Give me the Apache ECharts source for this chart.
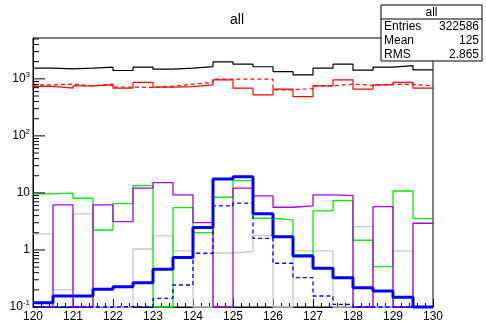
<!DOCTYPE html>
<html>
<head>
<meta charset="utf-8">
<script src="https://cdn.jsdelivr.net/npm/echarts@6/dist/echarts.min.js"></script>
<style>
html, body { margin: 0; padding: 0; background: #fff; }
#chart { width: 486px; height: 325px; }
</style>
</head>
<body>
<div id="chart"></div>
<script>
// bins (low edges), width 0.5
var binLow = [120.0, 120.5, 121.0, 121.5, 122.0, 122.5, 123.0, 123.5, 124.0, 124.5,
              125.0, 125.5, 126.0, 126.5, 127.0, 127.5, 128.0, 128.5, 129.0, 129.5];
var binWidth = 0.5;

// histogram contents
var histAll      = [1541, 1497, 1541, 1604, 1399, 1604, 1479, 1541, 1643, 1988, 1811, 1630, 1343, 1175, 1541, 1811, 1420, 1604, 1711, 1438];
var histRed      = [740, 687, 754, 785, 687, 870, 715, 733, 785, 960, 687, 524, 660, 489, 754, 960, 660, 785, 870, 687];
var histRedDash  = [785, 807, 754, 807, 720, 705, 745, 807, 860, 988, 988, 988, 640, 676, 754, 807, 770, 800, 800, 754];
var histGreen    = [9.6, 9.9, 8.07, 2.24, 6.49, 13.4, 0, 5.52, 2.01, 8.4, 16.4, 3.6, 3.36, 0.817, 4.83, 7.33, 1.48, 0.51, 10.8, 3.54];
var histViolet   = [0, 6.16, 0, 6.16, 3.14, 12.1, 15.2, 9.22, 3.01, 0, 12.1, 8.86, 5.61, 5.91, 9.22, 8.97, 0, 5.75, 0, 2.94];
var histGray     = [1.91, 0.199, 4.28, 0, 0, 1.04, 1.76, 0.96, 0, 0.885, 0.94, 1.8, 0, 0.96, 0.96, 0, 2.56, 0, 0.96, 0];
var histBlue     = [0.119, 0.156, 0.156, 0.205, 0.226, 0.267, 0.458, 0.738, 2.48, 17.6, 19.3, 4.33, 1.71, 0.785, 0.478, 0.327, 0.218, 0.191, 0.148, 0];
var histBlueDash = [0, 0, 0, 0, 0.102, 0, 0.142, 0.243, 0.875, 5.91, 6.6, 1.6, 0.585, 0.327, 0.156, 0.111, 0, 0, 0, 0];

// axes
var xMin = 120, xMax = 130;
var yMin = 0.1, yMax = 5200;
var yMajorTicks = [0.1, 1, 10, 100, 1000];
var yMinorTicks = [0.2, 0.3, 0.4, 0.5, 0.6, 0.7, 0.8, 0.9,
                   2, 3, 4, 5, 6, 7, 8, 9,
                   20, 30, 40, 50, 60, 70, 80, 90,
                   200, 300, 400, 500, 600, 700, 800, 900,
                   2000, 3000, 4000, 5000];

// stats box
var statsTitle = 'all';
var statsNames = ['Entries', 'Mean', 'RMS'];
var statsValues = ['322586', '125', '2.865'];

var FONT = 'Liberation Sans';

// turn bin contents into step points, empty bins sit on the frame bottom
function stepData(vals) {
	var out = [];
	for (var i = 0; i < vals.length; i++) {
		out.push([binLow[i], Math.max(vals[i], yMin)]);
	}
	var last = vals.length - 1;
	out.push([binLow[last] + binWidth, Math.max(vals[last], yMin)]);
	return out;
}

function histSeries(vals, color, width, dash, z) {
	return {
		type: 'line',
		step: 'end',
		data: stepData(vals),
		symbol: 'none',
		clip: false,
		animation: false,
		z: z,
		lineStyle: { color: color, width: width, type: dash ? [4, 3] : 'solid' }
	};
}

function tickSeries(vals, len) {
	var data = [];
	for (var i = 0; i < vals.length; i++) data.push([xMin, vals[i], len]);
	return {
		type: 'custom',
		data: data,
		clip: false,
		silent: true,
		animation: false,
		z: 20,
		renderItem: function (params, api) {
			var p = api.coord([api.value(0), api.value(1)]);
			return {
				type: 'line',
				shape: { x1: p[0], y1: p[1], x2: p[0] + api.value(2), y2: p[1] },
				style: { stroke: '#000', lineWidth: 1 }
			};
		}
	};
}

function yLabel(v) {
	var e = Math.log10(v);
	var r = Math.round(e);
	if (Math.abs(e - r) > 1e-6) return '';
	if (r === 0) return '{b|1}';
	if (r === 1) return '{b|10}';
	return '{b|10}{s|' + r + '}';
}

var statsGraphics = [
	{ type: 'rect', shape: { x: 381, y: 5, width: 101, height: 56 }, style: { fill: '#fff', stroke: '#000', lineWidth: 1 }, z: 100 },
	{ type: 'line', shape: { x1: 381, y1: 19, x2: 482, y2: 19 }, style: { stroke: '#000', lineWidth: 1 }, z: 101 },
	{ type: 'text', x: 431.5, y: 12.5, style: { text: statsTitle, font: '12px ' + FONT, fill: '#000', textAlign: 'center', textVerticalAlign: 'middle' }, z: 101 }
];
for (var i = 0; i < statsNames.length; i++) {
	statsGraphics.push({ type: 'text', x: 384, y: 26.5 + i * 14, style: { text: statsNames[i], font: '12px ' + FONT, fill: '#000', textAlign: 'left', textVerticalAlign: 'middle' }, z: 101 });
	statsGraphics.push({ type: 'text', x: 479, y: 26.5 + i * 14, style: { text: statsValues[i], font: '12px ' + FONT, fill: '#000', textAlign: 'right', textVerticalAlign: 'middle' }, z: 101 });
}

var myChart = echarts.init(document.getElementById('chart'), null, { renderer: 'canvas' });
var option = {
	backgroundColor: '#fff',
	animation: false,
	title: {
		text: 'all',
		left: 225,
		top: 8,
		textStyle: { fontFamily: FONT, fontSize: 14, fontWeight: 'normal', color: '#000' }
	},
	grid: {
		left: 33, top: 38, width: 400, height: 269,
		show: true, borderColor: '#000', borderWidth: 1, backgroundColor: '#fff'
	},
	xAxis: {
		type: 'value',
		min: xMin, max: xMax, interval: 1,
		axisLine: { lineStyle: { color: '#000', width: 1 } },
		axisTick: { show: true, inside: true, length: 8, lineStyle: { color: '#000' } },
		minorTick: { show: true, splitNumber: 5, length: 4, lineStyle: { color: '#000' } },
		splitLine: { show: false },
		axisLabel: { color: '#000', fontFamily: FONT, fontSize: 12, margin: 4, showMinLabel: true, showMaxLabel: true }
	},
	yAxis: {
		type: 'log',
		logBase: 10,
		min: yMin, max: yMax,
		axisLine: { lineStyle: { color: '#000', width: 1 } },
		axisTick: { show: false },
		splitLine: { show: false },
		axisLabel: {
			margin: 3,
			formatter: yLabel,
			showMaxLabel: false,
			rich: {
				b: { fontFamily: FONT, fontSize: 12, color: '#000' },
				s: { fontFamily: FONT, fontSize: 8, color: '#000', padding: [0, 0, 8, 0] }
			}
		}
	},
	graphic: statsGraphics,
	series: [
		histSeries(histAll, '#000000', 1.2, false, 2),
		histSeries(histRed, '#ff0000', 1.2, false, 3),
		histSeries(histRedDash, '#ff0000', 1.2, true, 4),
		histSeries(histGray, '#c8c8c8', 1.3, false, 5),
		histSeries(histGreen, '#00ee00', 1.3, false, 6),
		histSeries(histViolet, '#b000e0', 1.3, false, 7),
		histSeries(histBlueDash, '#0000ff', 1.3, true, 8),
		histSeries(histBlue, '#0000ff', 3, false, 9),
		tickSeries(yMajorTicks, 12),
		tickSeries(yMinorTicks, 6)
	]
};
myChart.setOption(option);
</script>
</body>
</html>
